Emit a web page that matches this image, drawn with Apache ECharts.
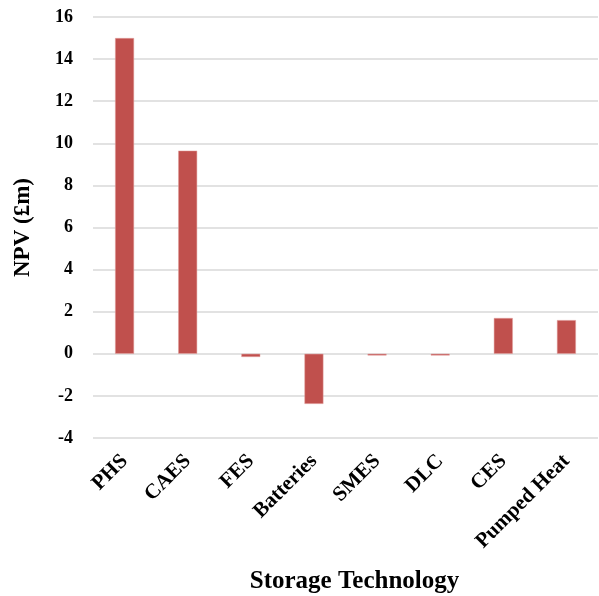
<!DOCTYPE html>
<html><head><meta charset="utf-8">
<script src="https://cdn.jsdelivr.net/npm/echarts@6/dist/echarts.min.js"></script>
<style>html,body{margin:0;padding:0;background:#fff}#c{width:599px;height:596px}</style>
</head><body><div id="c"></div>
<script>
const categories = ['PHS','CAES','FES','Batteries','SMES','DLC','CES','Pumped Heat'];
const npvValues = [15.0, 9.65, -0.15, -2.38, -0.08, -0.08, 1.7, 1.6];
const yTicks = {min: -4, max: 16, interval: 2};
const font = '"Liberation Serif", "Times New Roman", serif';
const chart = echarts.init(document.getElementById('c'));
chart.setOption({
  animation: false,
  grid: {left: 93, right: 1, top: 17, bottom: 158, containLabel: false, outerBoundsMode: 'none'},
  xAxis: {
    type: 'category', data: categories,
    name: 'Storage Technology', nameLocation: 'middle', nameGap: 131,
    nameTextStyle: {fontFamily: font, fontWeight: 'bold', fontSize: 25, color: '#000', padding: [0, 0, 0, 18]},
    axisLine: {show: false}, axisTick: {show: false},
    axisLabel: {rotate: 45, interval: 0, fontFamily: font, fontWeight: 'bold', fontSize: 21, color: '#000', margin: 20}
  },
  yAxis: {
    type: 'value', min: yTicks.min, max: yTicks.max, interval: yTicks.interval,
    name: 'NPV (£m)', nameLocation: 'middle', nameGap: 58,
    nameTextStyle: {fontFamily: font, fontWeight: 'bold', fontSize: 23, color: '#000'},
    axisLine: {show: false}, axisTick: {show: false},
    axisLabel: {fontFamily: font, fontWeight: 'bold', fontSize: 18, color: '#000', margin: 20},
    splitLine: {lineStyle: {color: '#d9d9d9', width: 1.5}}
  },
  series: [{
    type: 'bar', data: npvValues, barWidth: '30%',
    itemStyle: {color: '#C0504D', borderColor: '#e3a3a1', borderWidth: 0.5}
  }]
});
</script></body></html>
